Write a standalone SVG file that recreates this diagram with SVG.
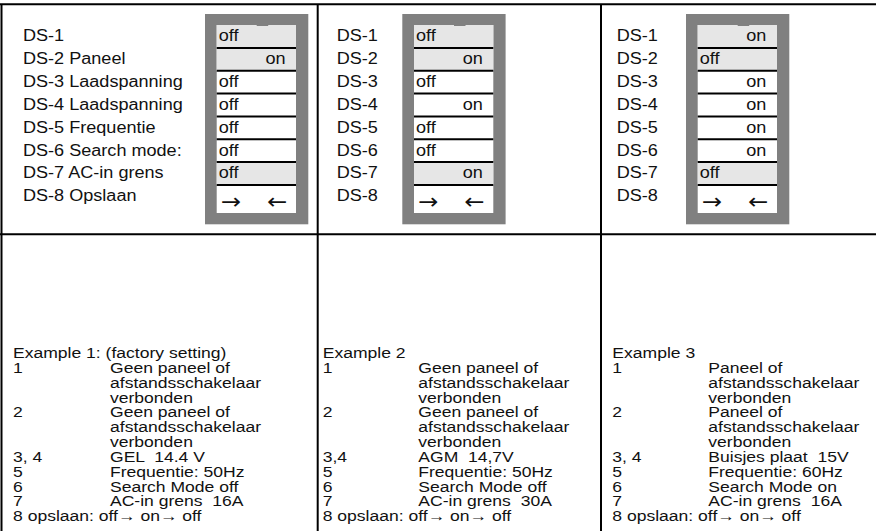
<svg xmlns="http://www.w3.org/2000/svg" xmlns:xlink="http://www.w3.org/1999/xlink" width="876" height="531" viewBox="0 0 876 531">
<style>
text{font-family:"Liberation Sans",Arial,sans-serif;fill:#111;white-space:pre}
.t text{font-size:16px}
.b text{font-size:15px}
.on text{text-anchor:end}
.arr{font-family:"DejaVu Sans",sans-serif;font-size:22px}
.grid line{stroke:#000;stroke-width:2}
.sep{stroke:#000;stroke-width:2}
</style>
<defs>
<g id="panel">
<rect x="0" y="14" width="103.3" height="210.3" fill="#808080"/>
<rect x="11.7" y="25" width="79.3" height="188" fill="#fff"/>
<rect x="11.7" y="25" width="79.3" height="45.7" fill="#e6e6e6"/>
<rect x="11.7" y="162.1" width="79.3" height="22.9" fill="#e6e6e6"/>
<rect x="51.7" y="23.5" width="11.5" height="2.5" fill="#808080"/>
<g class="sep">
<line x1="11.7" y1="47.9" x2="91" y2="47.9"/>
<line x1="11.7" y1="70.7" x2="91" y2="70.7"/>
<line x1="11.7" y1="93.6" x2="91" y2="93.6"/>
<line x1="11.7" y1="116.4" x2="91" y2="116.4"/>
<line x1="11.7" y1="139.3" x2="91" y2="139.3"/>
<line x1="11.7" y1="162.1" x2="91" y2="162.1"/>
<line x1="11.7" y1="185" x2="91" y2="185"/>
</g>
<text class="arr" x="16" y="209" transform="translate(16 0) scale(1.1 1) translate(-16 0)">→</text>
<text class="arr" x="62" y="209" transform="translate(62 0) scale(1.1 1) translate(-62 0)">←</text>
</g>
</defs>
<rect width="876" height="531" fill="#fff"/>
<g id="grid" class="grid">
<line x1="0" y1="4.3" x2="876" y2="4.3"/>
<line x1="1.5" y1="4" x2="1.5" y2="531"/>
<line x1="317.7" y1="4" x2="317.7" y2="531"/>
<line x1="601" y1="4" x2="601" y2="531"/>
<line x1="0" y1="234.3" x2="876" y2="234.3"/>
</g>
<g id="switches-1">
<g class="t" transform="translate(23 0) scale(1.13 1)">
<text x="0" y="41.3">DS-1</text>
<text x="0" y="64.2">DS-2 Paneel</text>
<text x="0" y="87">DS-3 Laadspanning</text>
<text x="0" y="109.9">DS-4 Laadspanning</text>
<text x="0" y="132.7">DS-5 Frequentie</text>
<text x="0" y="155.6">DS-6 Search mode:</text>
<text x="0" y="178.5">DS-7 AC-in grens</text>
<text x="0" y="201.3">DS-8 Opslaan</text>
</g>
<use xlink:href="#panel" x="205"/>
<g class="t" transform="translate(218.7 0) scale(1.13 1)">
<text x="0" y="41.3">off</text>
<text x="0" y="87">off</text>
<text x="0" y="109.9">off</text>
<text x="0" y="132.7">off</text>
<text x="0" y="155.6">off</text>
<text x="0" y="178.5">off</text>
</g>
<g class="t on" transform="translate(285.5 0) scale(1.13 1)">
<text x="0" y="64.2">on</text>
</g>
</g>
<g id="switches-2">
<g class="t" transform="translate(336.7 0) scale(1.13 1)">
<text x="0" y="41.3">DS-1</text>
<text x="0" y="64.2">DS-2</text>
<text x="0" y="87">DS-3</text>
<text x="0" y="109.9">DS-4</text>
<text x="0" y="132.7">DS-5</text>
<text x="0" y="155.6">DS-6</text>
<text x="0" y="178.5">DS-7</text>
<text x="0" y="201.3">DS-8</text>
</g>
<use xlink:href="#panel" x="402.3"/>
<g class="t" transform="translate(416 0) scale(1.13 1)">
<text x="0" y="41.3">off</text>
<text x="0" y="87">off</text>
<text x="0" y="132.7">off</text>
<text x="0" y="155.6">off</text>
</g>
<g class="t on" transform="translate(482.8 0) scale(1.13 1)">
<text x="0" y="64.2">on</text>
<text x="0" y="109.9">on</text>
<text x="0" y="178.5">on</text>
</g>
</g>
<g id="switches-3">
<g class="t" transform="translate(616.7 0) scale(1.13 1)">
<text x="0" y="41.3">DS-1</text>
<text x="0" y="64.2">DS-2</text>
<text x="0" y="87">DS-3</text>
<text x="0" y="109.9">DS-4</text>
<text x="0" y="132.7">DS-5</text>
<text x="0" y="155.6">DS-6</text>
<text x="0" y="178.5">DS-7</text>
<text x="0" y="201.3">DS-8</text>
</g>
<use xlink:href="#panel" x="686"/>
<g class="t" transform="translate(699.7 0) scale(1.13 1)">
<text x="0" y="64.2">off</text>
<text x="0" y="178.5">off</text>
</g>
<g class="t on" transform="translate(766.3 0) scale(1.13 1)">
<text x="0" y="41.3">on</text>
<text x="0" y="87">on</text>
<text x="0" y="109.9">on</text>
<text x="0" y="132.7">on</text>
<text x="0" y="155.6">on</text>
</g>
</g>
<g id="example-1">
<g class="b" transform="translate(13 0) scale(1.17 1)">
<text x="0" y="358">Example 1: (factory setting)</text>
<text x="0" y="372.9">1</text>
<text x="0" y="417.4">2</text>
<text x="0" y="462">3, 4</text>
<text x="0" y="476.8">5</text>
<text x="0" y="491.7">6</text>
<text x="0" y="506.5">7</text>
<text x="0" y="521.4">8 opslaan: off→ on→ off</text>
</g>
<g class="b" transform="translate(110 0) scale(1.17 1)">
<text x="0" y="372.9">Geen paneel of</text>
<text x="0" y="387.7">afstandsschakelaar</text>
<text x="0" y="402.6">verbonden</text>
<text x="0" y="417.4">Geen paneel of</text>
<text x="0" y="432.3">afstandsschakelaar</text>
<text x="0" y="447.1">verbonden</text>
<text x="0" y="462">GEL  14.4 V</text>
<text x="0" y="476.8">Frequentie: 50Hz</text>
<text x="0" y="491.7">Search Mode off</text>
<text x="0" y="506.5">AC-in grens  16A</text>
</g>
</g>
<g id="example-2">
<g class="b" transform="translate(322.7 0) scale(1.17 1)">
<text x="0" y="358">Example 2</text>
<text x="0" y="372.9">1</text>
<text x="0" y="417.4">2</text>
<text x="0" y="462">3,4</text>
<text x="0" y="476.8">5</text>
<text x="0" y="491.7">6</text>
<text x="0" y="506.5">7</text>
<text x="0" y="521.4">8 opslaan: off→ on→ off</text>
</g>
<g class="b" transform="translate(418.3 0) scale(1.17 1)">
<text x="0" y="372.9">Geen paneel of</text>
<text x="0" y="387.7">afstandsschakelaar</text>
<text x="0" y="402.6">verbonden</text>
<text x="0" y="417.4">Geen paneel of</text>
<text x="0" y="432.3">afstandsschakelaar</text>
<text x="0" y="447.1">verbonden</text>
<text x="0" y="462">AGM  14,7V</text>
<text x="0" y="476.8">Frequentie: 50Hz</text>
<text x="0" y="491.7">Search Mode off</text>
<text x="0" y="506.5">AC-in grens  30A</text>
</g>
</g>
<g id="example-3">
<g class="b" transform="translate(612.3 0) scale(1.17 1)">
<text x="0" y="358">Example 3</text>
<text x="0" y="372.9">1</text>
<text x="0" y="417.4">2</text>
<text x="0" y="462">3, 4</text>
<text x="0" y="476.8">5</text>
<text x="0" y="491.7">6</text>
<text x="0" y="506.5">7</text>
<text x="0" y="521.4">8 opslaan: off→ on→ off</text>
</g>
<g class="b" transform="translate(708.3 0) scale(1.17 1)">
<text x="0" y="372.9">Paneel of</text>
<text x="0" y="387.7">afstandsschakelaar</text>
<text x="0" y="402.6">verbonden</text>
<text x="0" y="417.4">Paneel of</text>
<text x="0" y="432.3">afstandsschakelaar</text>
<text x="0" y="447.1">verbonden</text>
<text x="0" y="462">Buisjes plaat  15V</text>
<text x="0" y="476.8">Frequentie: 60Hz</text>
<text x="0" y="491.7">Search Mode on</text>
<text x="0" y="506.5">AC-in grens  16A</text>
</g>
</g>
</svg>
